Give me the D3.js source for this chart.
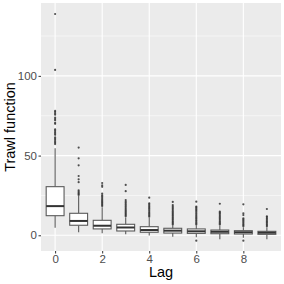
<!DOCTYPE html>
<html>
<head>
<meta charset="utf-8">
<script src="https://cdn.jsdelivr.net/npm/d3@7"></script>
<style>
  body { margin: 0; background: #fff; }
  svg { display: block; font-family: "Liberation Sans", Arial, sans-serif; }
</style>
</head>
<body>
<div id="chart"></div>
<script>
// box statistics per lag
const lags = [0, 1, 2, 3, 4, 5, 6, 7, 8, 9];
const q1 = [12.3, 6.3, 4.0, 2.7, 1.9, 1.4, 1.2, 1.0, 0.8, 0.6];
const median = [18.3, 9.0, 6.0, 4.9, 3.3, 2.9, 2.5, 2.2, 1.9, 1.6];
const q3 = [30.5, 13.8, 9.4, 6.9, 5.4, 4.4, 4.0, 3.3, 2.9, 2.5];
const whiskerLow = [4.8, 1.9, 1.3, 0.7, -0.2, -0.9, -1.3, -2.5, -1.5, -2.5];
const whiskerHigh = [54.6, 24.6, 17.6, 11.2, 11.0, 6.3, 6.1, 6.0, 5.1, 5.1];
const outliers = [
  [57.2, 58.0, 58.8, 59.7, 60.5, 61.4, 63.0, 63.8, 64.7, 65.6, 66.4, 69.9, 70.6, 72.1, 72.9, 73.8, 75.6, 76.4, 77.3, 78.0, 103.7, 138.8],
  [25.3, 26.0, 26.7, 27.4, 28.2, 33.3, 35.1, 37.2, 43.9, 48.3, 55.0],
  [18.3, 19.0, 19.7, 20.4, 21.1, 21.8, 22.6, 23.4, 24.2, 25.0, 26.1, 30.4, 31.4, 32.8],
  [11.9, 12.6, 13.3, 14.0, 14.8, 15.5, 16.3, 17.1, 17.9, 18.7, 19.5, 20.4, 21.2, 22.1, 27.7, 31.6],
  [11.7, 12.4, 13.1, 13.9, 14.6, 15.4, 16.2, 17.0, 17.8, 18.6, 19.4, 20.1, 23.6],
  [6.8, 7.5, 8.2, 8.9, 9.7, 10.4, 11.1, 11.9, 12.6, 13.4, 14.2, 15.0, 15.8, 16.6, 17.4, 18.2, 19.0, 20.9],
  [-3.4, 6.7, 7.4, 8.1, 8.9, 9.6, 10.4, 11.1, 11.9, 12.7, 13.5, 14.3, 15.1, 15.9, 16.7, 17.5, 18.0, 21.1],
  [6.7, 7.4, 8.1, 8.8, 9.6, 10.3, 11.1, 11.9, 12.7, 13.5, 14.2, 14.8, 19.8],
  [-3.4, 5.7, 6.4, 7.1, 7.8, 8.6, 9.3, 10.0, 10.7, 12.7, 13.8, 19.4],
  [5.7, 6.4, 7.1, 7.8, 8.5, 9.2, 10.0, 10.7, 11.4, 11.9, 16.5]
];
const xTicks = [0, 2, 4, 6, 8];
const yTicks = [0, 50, 100];
const yMinor = [25, 75, 125];

const width = 284, height = 284;
const margin = { top: 3, right: 3, bottom: 33, left: 41 };
const boxWidth = 0.76;

const svg = d3.select("#chart")
    .append("svg")
    .attr("width", width)
    .attr("height", height);

const x = d3.scaleLinear()
    .domain([-0.6, 9.6])
    .range([margin.left, width - margin.right]);

const y = d3.scaleLinear()
    .domain([-9.85, 145.7])
    .range([height - margin.bottom, margin.top]);

// panel background
svg.append("rect")
    .attr("x", margin.left)
    .attr("y", margin.top)
    .attr("width", width - margin.left - margin.right)
    .attr("height", height - margin.top - margin.bottom)
    .attr("fill", "#EBEBEB");

// grid lines
const grid = svg.append("g");
grid.selectAll(".minor")
    .data(yMinor)
    .join("line")
    .attr("x1", margin.left).attr("x2", width - margin.right)
    .attr("y1", d => y(d)).attr("y2", d => y(d))
    .attr("stroke", "#fff").attr("stroke-width", 0.55);
grid.selectAll(".major-y")
    .data(yTicks)
    .join("line")
    .attr("x1", margin.left).attr("x2", width - margin.right)
    .attr("y1", d => y(d)).attr("y2", d => y(d))
    .attr("stroke", "#fff").attr("stroke-width", 1.1);
grid.selectAll(".major-x")
    .data(xTicks)
    .join("line")
    .attr("y1", margin.top).attr("y2", height - margin.bottom)
    .attr("x1", d => x(d)).attr("x2", d => x(d))
    .attr("stroke", "#fff").attr("stroke-width", 1.1);

const boxColor = "#5a5a5a";
const boxes = svg.append("g")
    .selectAll("g")
    .data(lags)
    .join("g");

// whiskers
boxes.append("line")
    .attr("x1", d => x(d)).attr("x2", d => x(d))
    .attr("y1", d => y(q3[d])).attr("y2", d => y(whiskerHigh[d]))
    .attr("stroke", boxColor).attr("stroke-width", 1.1);
boxes.append("line")
    .attr("x1", d => x(d)).attr("x2", d => x(d))
    .attr("y1", d => y(q1[d])).attr("y2", d => y(whiskerLow[d]))
    .attr("stroke", boxColor).attr("stroke-width", 1.1);

// boxes
boxes.append("rect")
    .attr("x", d => x(d - boxWidth / 2))
    .attr("width", x(boxWidth) - x(0))
    .attr("y", d => y(q3[d]))
    .attr("height", d => y(q1[d]) - y(q3[d]))
    .attr("fill", "#fff")
    .attr("stroke", boxColor).attr("stroke-width", 1.1);

// medians
boxes.append("line")
    .attr("x1", d => x(d - boxWidth / 2)).attr("x2", d => x(d + boxWidth / 2))
    .attr("y1", d => y(median[d])).attr("y2", d => y(median[d]))
    .attr("stroke", "#333").attr("stroke-width", 2);

// outliers
boxes.selectAll("circle")
    .data(d => outliers[d].map(v => [d, v]))
    .join("circle")
    .attr("cx", d => x(d[0]))
    .attr("cy", d => y(d[1]))
    .attr("r", 1.1)
    .attr("fill", "#333")
    .attr("fill-opacity", 0.85);

// axes
const yAxis = svg.append("g")
    .attr("transform", `translate(${margin.left},0)`)
    .call(d3.axisLeft(y).tickValues(yTicks).tickSize(2.5).tickPadding(1.5));
const xAxis = svg.append("g")
    .attr("transform", `translate(0,${height - margin.bottom})`)
    .call(d3.axisBottom(x).tickValues(xTicks).tickSize(2.5).tickPadding(1.2));

[xAxis, yAxis].forEach(a => {
    a.select(".domain").remove();
    a.selectAll(".tick line").attr("stroke", "#333").attr("stroke-width", 1);
    a.selectAll(".tick text")
        .attr("fill", "#4D4D4D")
        .style("font-size", "11.5px")
        .style("font-family", "'Liberation Sans', Arial, sans-serif");
});

// axis titles
svg.append("text")
    .attr("x", (margin.left + width - margin.right) / 2)
    .attr("y", 277)
    .attr("text-anchor", "middle")
    .style("font-size", "14.5px")
    .attr("fill", "#000")
    .text("Lag");

svg.append("text")
    .attr("transform", `translate(15.3,${(margin.top + height - margin.bottom) / 2}) rotate(-90)`)
    .attr("text-anchor", "middle")
    .style("font-size", "14.5px")
    .attr("fill", "#000")
    .text("Trawl function");
</script>
</body>
</html>
